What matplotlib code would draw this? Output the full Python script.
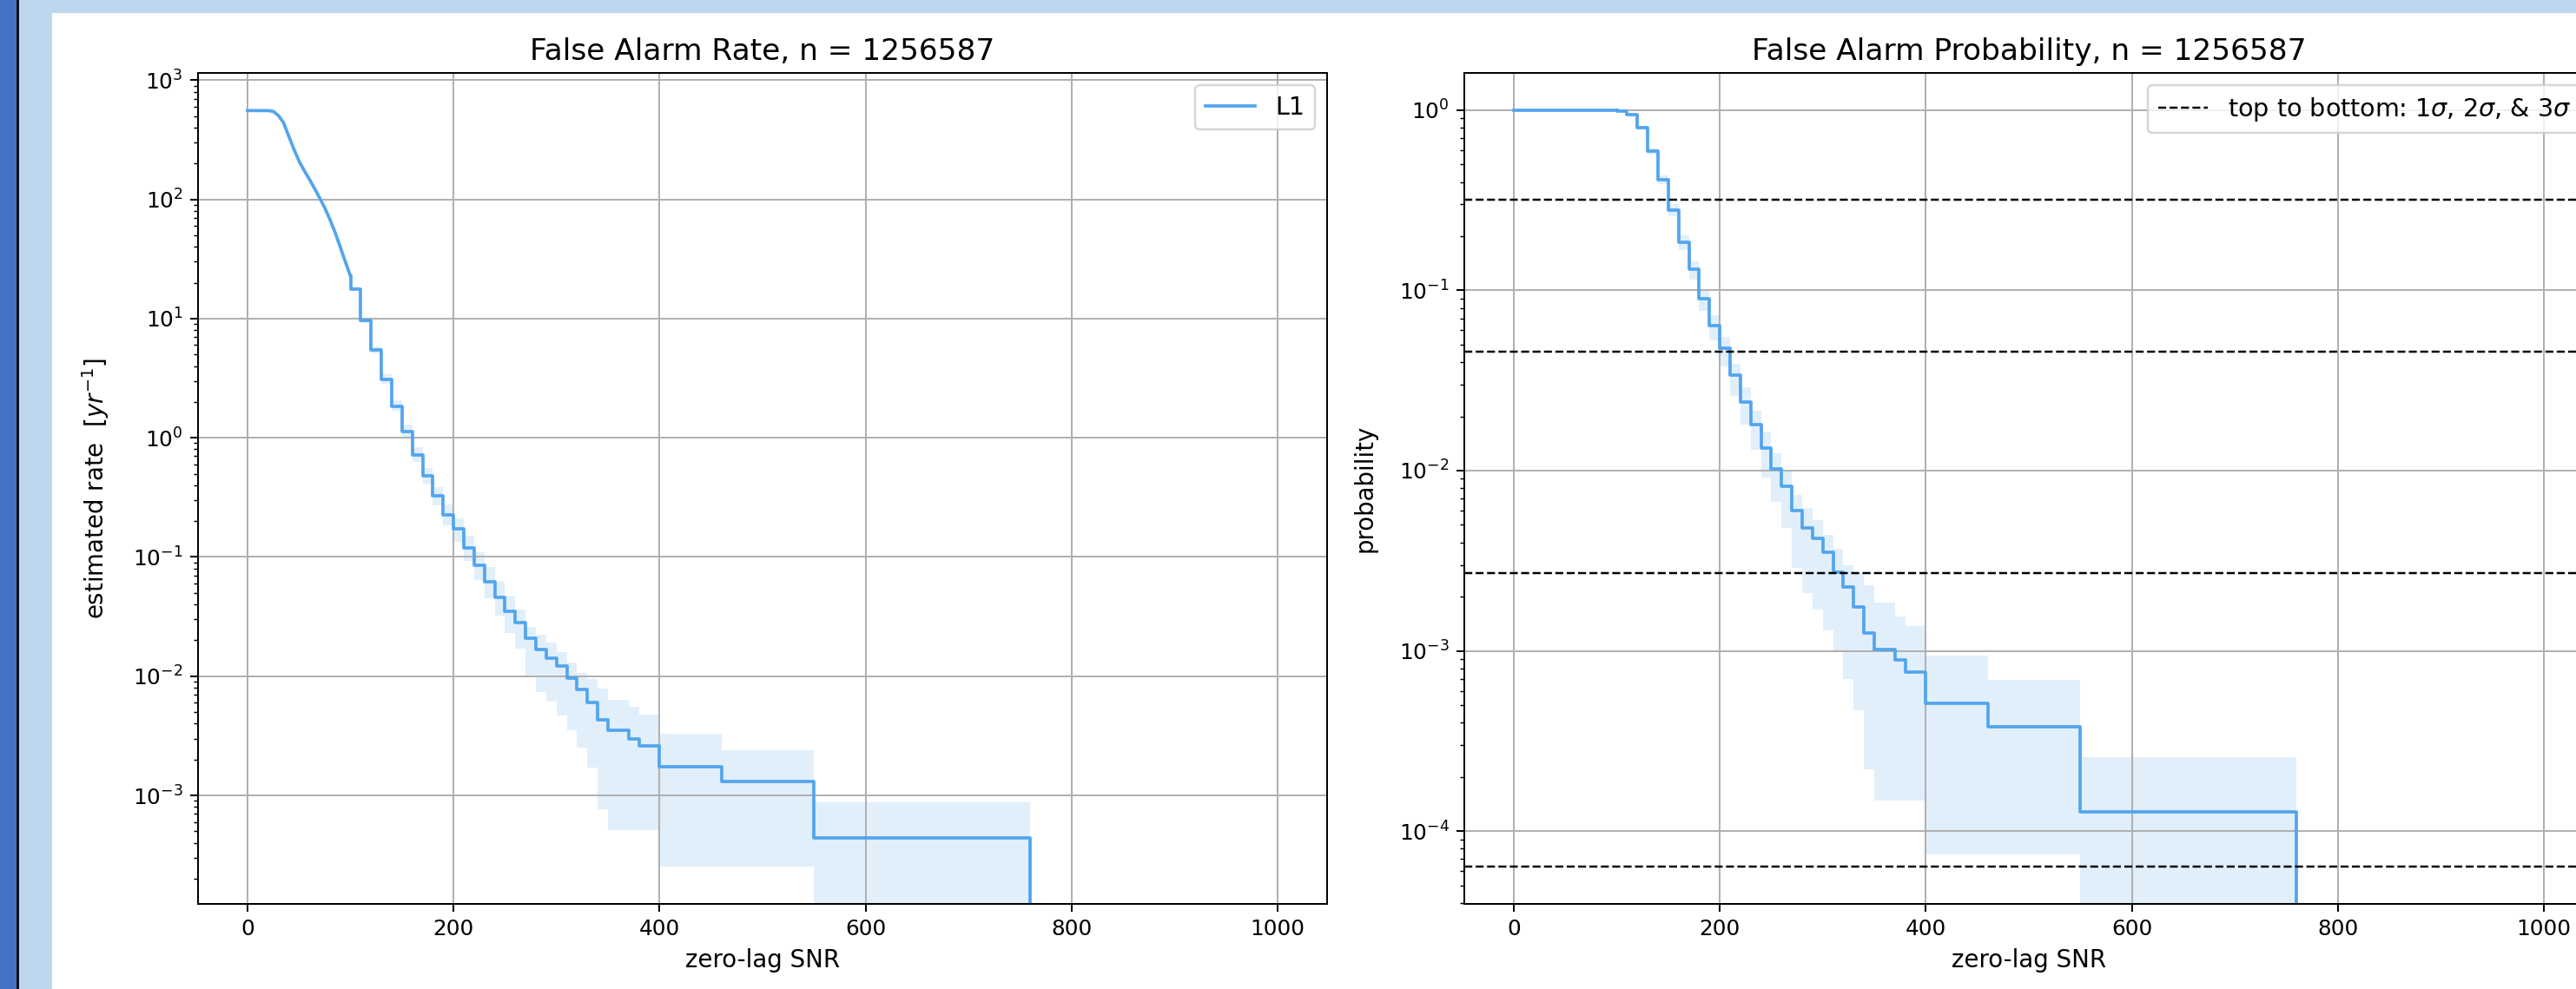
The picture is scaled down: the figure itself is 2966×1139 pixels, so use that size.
import matplotlib
matplotlib.use("Agg")
import matplotlib.pyplot as plt
from matplotlib.patches import Rectangle

# ---------------- data ----------------
n_events = 1256587

# smooth (dense) part of the curves
snr_smooth = [0, 10, 20, 25, 30, 35, 40, 45, 50, 55, 60, 65, 70, 75, 80, 85, 90, 95, 100]
far_smooth = [556, 556, 555, 548, 505, 440, 340, 265, 210, 175, 148, 124, 103, 85, 68, 53, 40, 30, 22.7]
fap_smooth = [1.0, 1.0, 1.0, 1.0, 1.0, 1.0, 1.0, 1.0, 1.0, 1.0, 1.0, 1.0, 1.0, 1.0, 1.0, 1.0, 1.0, 1.0, 1.0]

# stepped part (value on interval (x[i-1], x[i]]), first entry = start point, last = drop
snr_steps = [100, 110, 120, 130, 140, 150, 160, 170, 180, 190, 200, 210, 220, 230, 240,
             250, 260, 270, 280, 290, 300, 310, 320, 330, 340, 350, 370, 380, 400, 460,
             550, 760, 760]

far_steps = [22.7, 17.8, 9.7, 5.46, 3.1, 1.85, 1.13, 0.72, 0.48, 0.325, 0.227, 0.171, 0.119,
             0.085, 0.062, 0.046, 0.035, 0.028, 0.0207, 0.0168, 0.0142, 0.0121, 0.0097,
             0.0078, 0.006, 0.0043, 0.0035, 0.0030, 0.0026, 0.00174, 0.00131, 0.00044, 0]
far_lo = [22.7, 17.0, 9.2, 5.1, 2.85, 1.68, 1.0, 0.63, 0.41, 0.27, 0.185, 0.135, 0.092,
          0.064, 0.045, 0.032, 0.023, 0.017, 0.0102, 0.0074, 0.0061, 0.0047, 0.0035,
          0.0025, 0.0017, 0.00077, 0.00051, 0.00051, 0.00051, 0.000255, 0.000255, 0, 0]
far_hi = [22.7, 18.6, 10.2, 5.85, 3.4, 2.05, 1.28, 0.83, 0.56, 0.385, 0.275, 0.21, 0.15,
          0.11, 0.082, 0.062, 0.047, 0.036, 0.026, 0.0223, 0.019, 0.0158, 0.013, 0.0107,
          0.0095, 0.0079, 0.0063, 0.0055, 0.0048, 0.00327, 0.0024, 0.00087, 0]

fap_steps = [1.0, 0.99, 0.946, 0.80, 0.593, 0.413, 0.279, 0.186, 0.131, 0.090, 0.0638,
             0.0478, 0.0337, 0.0240, 0.0180, 0.0133, 0.0102, 0.0082, 0.00603, 0.0048,
             0.00423, 0.00354, 0.00273, 0.00226, 0.00176, 0.00126, 0.00102, 0.000886,
             0.00076, 0.00051, 0.000377, 0.000128, 0]
fap_lo = [1.0, 0.985, 0.93, 0.78, 0.57, 0.39, 0.258, 0.168, 0.115, 0.077, 0.053, 0.038,
          0.026, 0.018, 0.013, 0.0092, 0.0067, 0.0048, 0.0029, 0.0021, 0.0017, 0.0013,
          0.00098, 0.0007, 0.00047, 0.00022, 0.000148, 0.000148, 0.000148, 0.000074,
          0.000074, 0, 0]
fap_hi = [1.0, 0.995, 0.96, 0.82, 0.615, 0.435, 0.30, 0.203, 0.145, 0.10, 0.073, 0.055,
          0.039, 0.029, 0.0215, 0.0165, 0.0125, 0.010, 0.0073, 0.0062, 0.0053, 0.0044,
          0.0037, 0.0030, 0.0027, 0.0023, 0.00185, 0.00155, 0.00137, 0.00094, 0.00069,
          0.000256, 0]

# 1, 2, 3, 4 sigma false-alarm probabilities
sigma_levels = [0.3173, 0.0455, 0.0027, 6.334e-5]

line_color = "#52a5ed"
band_color = "#52a5ed"

TITLE_FS = 13.9
LABEL_FS = 11.2
LEGEND_FS = 11.6

# ---------------- figure ----------------
W, H, DPI = 2966, 1139, 178
fig = plt.figure(figsize=(W / DPI, H / DPI), dpi=DPI)
fig.patch.set_facecolor("#BDD7EE")
fig.add_artist(Rectangle((60 / W, 0), 1, (H - 15) / H, transform=fig.transFigure,
                         facecolor="white", edgecolor="none", zorder=-10))
fig.add_artist(Rectangle((0, 0), 19 / W, 1, transform=fig.transFigure,
                         facecolor="#4472C4", edgecolor="none", zorder=-10))
fig.add_artist(Rectangle((19 / W, 0), 3 / W, 1, transform=fig.transFigure,
                         facecolor="#111111", edgecolor="none", zorder=-10))

bottom = 1 - 1041 / H
height = 957 / H
ax1 = fig.add_axes([228 / W, bottom, 1300 / W, height])
ax2 = fig.add_axes([1686 / W, bottom, 1300 / W, height])

# ---- left: false alarm rate ----
ax1.fill_between(snr_steps, far_lo, far_hi, step="pre", color=band_color, alpha=0.17, linewidth=0)
ax1.plot(snr_smooth, far_smooth, color=line_color, lw=1.5, label="L1")
ax1.step(snr_steps, far_steps, where="pre", color=line_color, lw=1.5)
ax1.set_yscale("log")
ax1.set_xlim(-48, 1048)
ax1.set_ylim(1.23e-4, 1150)
ax1.grid(True)
ax1.set_title(f"False Alarm Rate, n = {n_events}", fontsize=TITLE_FS)
ax1.set_xlabel("zero-lag SNR", fontsize=LABEL_FS)
ax1.set_ylabel("estimated rate  [$yr^{-1}$]", fontsize=LABEL_FS, labelpad=10)
ax1.legend(loc="upper right", fontsize=LEGEND_FS)

# ---- right: false alarm probability ----
ax2.fill_between(snr_steps, fap_lo, fap_hi, step="pre", color=band_color, alpha=0.17, linewidth=0)
ax2.plot(snr_smooth, fap_smooth, color=line_color, lw=1.5)
ax2.step(snr_steps, fap_steps, where="pre", color=line_color, lw=1.5)
for i, lev in enumerate(sigma_levels):
    ax2.axhline(lev, color="k", ls="--", lw=1.0,
                label=r"top to bottom: 1$\sigma$, 2$\sigma$, & 3$\sigma$" if i == 0 else None)
ax2.set_yscale("log")
ax2.set_xlim(-48, 1048)
ax2.set_ylim(3.94e-5, 1.61)
ax2.grid(True)
ax2.set_title(f"False Alarm Probability, n = {n_events}", fontsize=TITLE_FS)
ax2.set_xlabel("zero-lag SNR", fontsize=LABEL_FS)
ax2.set_ylabel("probability", fontsize=LABEL_FS, labelpad=10)
ax2.legend(loc="upper right", fontsize=LEGEND_FS)

for ax in (ax1, ax2):
    ax.set_xticks([0, 200, 400, 600, 800, 1000])

fig.savefig("out.png", dpi=DPI, facecolor=fig.get_facecolor())
